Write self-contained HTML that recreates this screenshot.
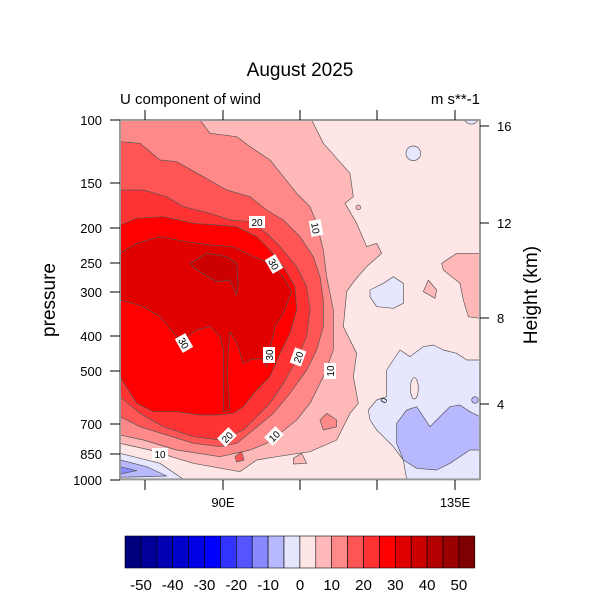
<!DOCTYPE html>
<html><head><meta charset="utf-8"><style>
html,body{margin:0;padding:0;background:#fff;}
svg{display:block;font-family:"Liberation Sans",sans-serif;}
</style></head><body>
<svg width="600" height="600" viewBox="0 0 600 600" xmlns="http://www.w3.org/2000/svg">
<text x="300" y="76" font-size="19" text-anchor="middle">August 2025</text>
<text x="120" y="104" font-size="15">U component of wind</text>
<text x="480" y="104" font-size="15" text-anchor="end">m s**-1</text>
<text transform="translate(55 300) rotate(-90)" font-size="19" text-anchor="middle">pressure</text>
<text transform="translate(537 295) rotate(-90)" font-size="19" text-anchor="middle">Height (km)</text>

<g transform="translate(110 110) scale(0.33333)" stroke="#555" stroke-width="2" stroke-linejoin="round">
<rect x="30" y="30" width="1080" height="1078" fill="#ffe6e6" stroke="none"/>
<polygon fill="#ffb8b8" points="30,30 605,30 640,100 720,190 730,260 705,280 740,340 770,410 800,400 815,430 770,470 735,510 710,545 700,650 740,730 730,800 745,880 720,910 700,950 680,990 600,1025 500,1040 440,1050 390,1085 250,1060 200,1045 120,1020 30,1000"/>
<polygon fill="#ffb8b8" points="995,460 1040,430 1110,430 1110,625 1075,620 1060,570 1050,520 1000,480"/>
<polygon fill="#ffb8b8" points="940,545 955,510 980,540 975,565"/>
<polygon fill="#ffb8b8" points="550,1045 575,1030 590,1060 550,1062"/>
<circle cx="745" cy="292" r="7" fill="#ffb8b8"/>
<circle cx="910" cy="130" r="22" fill="#e6e6ff"/>
<path d="M1062,30 Q1085,55 1105,30 Z" fill="#e6e6ff"/>
<polygon fill="#e6e6ff" points="780,540 820,520 850,500 880,520 880,580 850,595 800,590 780,560"/>
<polygon fill="#e6e6ff" points="775,900 800,870 830,860 830,780 870,720 900,740 940,710 970,705 1000,720 1040,730 1070,750 1110,750 1110,1108 890,1108 880,1050 850,1010 800,960 780,930"/>
<ellipse cx="913" cy="835" rx="12" ry="32" fill="#ffe6e6"/>
<polygon fill="#b8b8ff" points="860,940 890,900 920,890 940,920 960,950 990,920 1020,890 1050,885 1080,905 1110,920 1110,1020 1080,1020 1020,1060 980,1080 920,1075 880,1050 860,1000"/>
<circle cx="1095" cy="870" r="10" fill="#b8b8ff"/>
<polygon fill="#e6e6ff" points="30,1030 150,1060 220,1108 30,1108"/>
<polygon fill="#b8b8ff" points="30,1050 110,1070 170,1098 30,1102"/>
<polygon fill="#8888ff" points="30,1070 80,1082 30,1092"/>
<polygon fill="#ff8888" points="30,30 270,30 300,70 380,80 420,110 480,150 520,200 560,250 600,290 620,340 640,420 650,500 670,600 670,720 640,800 600,880 560,930 510,970 470,1000 420,1020 330,1040 200,1020 100,990 30,975"/>
<polygon fill="#ff8888" points="630,930 650,910 680,930 680,950 640,960"/>
<polygon fill="#ff5555" points="30,95 90,100 150,150 200,155 280,200 350,240 420,260 470,300 520,330 570,380 610,440 630,500 640,570 640,650 620,720 590,780 540,850 490,910 430,960 380,1000 330,1010 250,1000 170,975 90,950 30,920"/>
<polygon fill="#ff5555" points="375,1040 395,1025 402,1050 380,1056"/>
<polygon fill="#ff3333" points="30,240 100,240 170,260 220,290 300,310 360,330 420,335 470,370 510,410 560,470 590,530 600,600 590,680 560,750 520,820 480,880 440,920 400,960 330,990 250,980 160,950 90,910 30,860"/>
<polygon fill="#ff0000" points="30,345 80,325 160,320 250,340 320,345 380,350 440,380 480,420 520,470 555,530 560,600 540,670 510,730 480,800 440,840 400,890 370,910 320,915 270,915 200,905 130,905 80,880 30,800"/>
<polygon fill="#e00000" points="30,430 80,400 150,380 230,395 300,405 370,410 430,440 480,460 520,500 545,545 520,610 495,650 480,720 470,770 455,745 420,750 400,760 380,700 360,665 355,720 352,800 360,900 340,905 340,720 330,680 300,650 260,660 220,690 200,680 150,620 100,590 50,575 30,570"/>
<polygon fill="#cc0000" points="240,460 290,430 350,440 380,460 385,520 380,555 360,510 320,515 260,480"/>
<rect x="30" y="30" width="1080" height="1078" fill="none" stroke="#999" stroke-width="6"/>
</g>
<g font-size="10" text-anchor="middle">
<rect x="249" y="216" width="16" height="12" fill="#fff"/><text x="257" y="226">20</text>
<g transform="translate(316 228) rotate(80)"><rect x="-8" y="-6" width="16" height="12" fill="#fff"/><text y="4">10</text></g>
<g transform="translate(274 264) rotate(60)"><rect x="-8" y="-6" width="16" height="12" fill="#fff"/><text y="4">30</text></g>
<g transform="translate(184 343) rotate(60)"><rect x="-8" y="-6" width="16" height="12" fill="#fff"/><text y="4">30</text></g>
<g transform="translate(269 355) rotate(-90)"><rect x="-8" y="-6" width="16" height="12" fill="#fff"/><text y="4">30</text></g>
<g transform="translate(298 357) rotate(-70)"><rect x="-8" y="-6" width="16" height="12" fill="#fff"/><text y="4">20</text></g>
<g transform="translate(330 371) rotate(-90)"><rect x="-8" y="-6" width="16" height="12" fill="#fff"/><text y="4">10</text></g>
<g transform="translate(383 400) rotate(-70)"><text y="4" font-size="9">0</text></g>
<g transform="translate(227 437) rotate(-45)"><rect x="-8" y="-6" width="16" height="12" fill="#fff"/><text y="4">20</text></g>
<g transform="translate(274 436) rotate(-45)"><rect x="-8" y="-6" width="16" height="12" fill="#fff"/><text y="4">10</text></g>
<rect x="152" y="448" width="16" height="12" fill="#fff"/><text x="160" y="458">10</text>
</g>
<g stroke="#000" stroke-width="1">
<line x1="145" y1="110" x2="145" y2="120"/><line x1="223" y1="110" x2="223" y2="120"/><line x1="300" y1="110" x2="300" y2="120"/><line x1="377" y1="110" x2="377" y2="120"/><line x1="455" y1="110" x2="455" y2="120"/>
<line x1="145" y1="480" x2="145" y2="490"/><line x1="223" y1="480" x2="223" y2="490"/><line x1="300" y1="480" x2="300" y2="490"/><line x1="377" y1="480" x2="377" y2="490"/><line x1="455" y1="480" x2="455" y2="490"/>
<line x1="110" y1="120" x2="120" y2="120"/><line x1="110" y1="183" x2="120" y2="183"/><line x1="110" y1="228" x2="120" y2="228"/><line x1="110" y1="263" x2="120" y2="263"/><line x1="110" y1="292" x2="120" y2="292"/><line x1="110" y1="336" x2="120" y2="336"/><line x1="110" y1="371" x2="120" y2="371"/><line x1="110" y1="424" x2="120" y2="424"/><line x1="110" y1="454" x2="120" y2="454"/><line x1="110" y1="480" x2="120" y2="480"/>
<line x1="480" y1="126" x2="489" y2="126"/><line x1="480" y1="223" x2="489" y2="223"/><line x1="480" y1="318" x2="489" y2="318"/><line x1="480" y1="404" x2="489" y2="404"/>
</g>
<g font-size="13" text-anchor="end">
<text x="102" y="125">100</text><text x="102" y="188">150</text><text x="102" y="233">200</text><text x="102" y="268">250</text><text x="102" y="297">300</text><text x="102" y="341">400</text><text x="102" y="376">500</text><text x="102" y="429">700</text><text x="102" y="459">850</text><text x="102" y="485">1000</text>
</g>
<g font-size="13">
<text x="497" y="131">16</text><text x="497" y="228">12</text><text x="497" y="323">8</text><text x="497" y="409">4</text>
</g>
<g font-size="13" text-anchor="middle"><text x="223" y="507">90E</text><text x="455" y="507">135E</text></g>

<g stroke="#000" stroke-width="0.6">
<rect x="125.0" y="536" width="15.9" height="32" fill="#00007f"/>
<rect x="140.9" y="536" width="15.9" height="32" fill="#000099"/>
<rect x="156.8" y="536" width="15.9" height="32" fill="#0000b2"/>
<rect x="172.7" y="536" width="15.9" height="32" fill="#0000cc"/>
<rect x="188.6" y="536" width="15.9" height="32" fill="#0000e5"/>
<rect x="204.5" y="536" width="15.9" height="32" fill="#0000ff"/>
<rect x="220.4" y="536" width="15.9" height="32" fill="#3333ff"/>
<rect x="236.3" y="536" width="15.9" height="32" fill="#5555ff"/>
<rect x="252.2" y="536" width="15.9" height="32" fill="#8888ff"/>
<rect x="268.1" y="536" width="15.9" height="32" fill="#b8b8ff"/>
<rect x="284.0" y="536" width="15.9" height="32" fill="#e6e6ff"/>
<rect x="299.9" y="536" width="15.9" height="32" fill="#ffe6e6"/>
<rect x="315.8" y="536" width="15.9" height="32" fill="#ffb8b8"/>
<rect x="331.7" y="536" width="15.9" height="32" fill="#ff8888"/>
<rect x="347.6" y="536" width="15.9" height="32" fill="#ff5555"/>
<rect x="363.5" y="536" width="15.9" height="32" fill="#ff3333"/>
<rect x="379.4" y="536" width="15.9" height="32" fill="#ff0000"/>
<rect x="395.3" y="536" width="15.9" height="32" fill="#e00000"/>
<rect x="411.2" y="536" width="15.9" height="32" fill="#cc0000"/>
<rect x="427.1" y="536" width="15.9" height="32" fill="#b20000"/>
<rect x="443.0" y="536" width="15.9" height="32" fill="#990000"/>
<rect x="458.9" y="536" width="15.9" height="32" fill="#7f0000"/>
</g>
<g font-size="15" text-anchor="middle">
<text x="141" y="590">-50</text><text x="172.7" y="590">-40</text><text x="204.5" y="590">-30</text><text x="236.3" y="590">-20</text><text x="268.1" y="590">-10</text><text x="300" y="590">0</text><text x="331.7" y="590">10</text><text x="363.5" y="590">20</text><text x="395.3" y="590">30</text><text x="427.1" y="590">40</text><text x="458.9" y="590">50</text>
</g>
</svg>
</body></html>
